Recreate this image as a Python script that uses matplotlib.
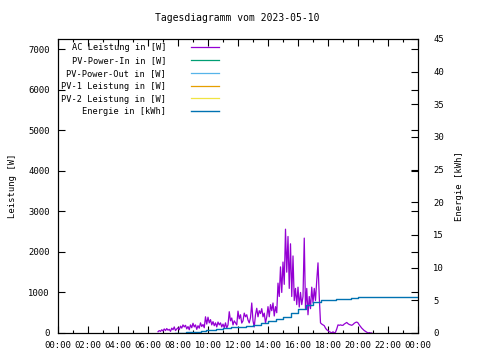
import numpy as np
import pandas as pd
import matplotlib
matplotlib.use('Agg')
import matplotlib.pyplot as plt
from matplotlib.ticker import MultipleLocator

plt.rcParams['font.family'] = ['DejaVu Sans Mono']

title = 'Tagesdiagramm vom 2023-05-10'
xtick_labels = ['00:00', '02:00', '04:00', '06:00', '08:00', '10:00', '12:00',
                '14:00', '16:00', '18:00', '20:00', '22:00', '00:00']

# AC Leistung [W], 5-Minuten-Werte ab 06:40
power_start = '2023-05-10 06:40'
ac_power = [
    30, 60, 40, 80,
    50, 100, 60, 110, 70, 90, 40, 120, 80, 150, 60, 100,            # 07
    130, 80, 170, 120, 200, 150, 190, 100, 160, 80, 200, 130,       # 08
    240, 150, 200, 90, 180, 120, 250, 160, 210, 130, 400, 220,      # 09
    390, 250, 330, 200, 280, 180, 250, 150, 270, 200, 250, 150,     # 10
    220, 130, 250, 120, 200, 525, 300, 370, 200, 300, 250, 200,     # 11
    540, 350, 450, 245, 300, 490, 400, 450, 320, 250, 380, 740,     # 12
    300, 150, 450, 610, 400, 550, 480, 600, 400, 490, 245, 400,     # 13
    650, 400, 700, 550, 740, 420, 650, 500, 1230, 900, 1630, 1000,  # 14
    1750, 1200, 2560, 1500, 2380, 1100, 2200, 900, 1900, 800, 1100, 700,  # 15
    1130, 640, 1000, 700, 900, 2340, 600, 1100, 450, 900, 600, 1130,      # 16
    740, 1100, 800, 1300, 1730, 900, 250, 220, 200, 180, 120, 80,   # 17
    60, 30, 20, 0, 30, 0, 20, 100, 200, 190, 200, 190,              # 18
    190, 220, 240, 260, 230, 210, 200, 190, 210, 240, 260, 270,     # 19
    250, 200, 160, 120, 90, 60, 40, 20, 0, 10, 0, 0,                # 20
]

# Energie [kWh]
energy_times = ['07:48', '08:30', '09:00', '09:30', '09:50', '10:30', '11:00',
                '11:30', '12:00', '12:30', '13:00', '13:30', '14:00', '14:30',
                '15:00', '15:30', '16:00', '16:30', '17:00', '17:30', '18:00',
                '18:30', '19:00', '19:30', '20:00', '24:00']
energy = [0.0, 0.1, 0.15, 0.25, 0.45, 0.55, 0.8, 0.85, 0.95, 1.05, 1.2, 1.5,
          1.9, 2.2, 2.5, 3.0, 3.7, 4.3, 4.8, 5.05, 5.1, 5.2, 5.25, 5.35,
          5.5, 5.5]

t0 = pd.Timestamp(power_start)
power_idx = pd.date_range(t0, periods=len(ac_power), freq='5min')
power_h = (power_idx - t0.normalize()) / pd.Timedelta(hours=1)
energy_h = [int(s[:2]) + int(s[3:]) / 60 for s in energy_times]

fs = 6.4

fig = plt.figure(figsize=(4.8, 3.6), dpi=100)
ax = fig.add_axes([58/480, 27/360, 360/480, 294/360])
ax2 = ax.twinx()

ax.plot(power_h, ac_power, color='#9400d3', lw=0.9, label='AC Leistung in [W]')
ax.plot([], [], color='#009e73', lw=0.9, label='PV-Power-In in [W]')
ax.plot([], [], color='#56b4e9', lw=0.9, label='PV-Power-Out in [W]')
ax.plot([], [], color='#e69f00', lw=0.9, label='PV-1 Leistung in [W]')
ax.plot([], [], color='#f0e442', lw=0.9, label='PV-2 Leistung in [W]')
ax2.plot(energy_h, energy, color='#0072b2', lw=1.0, drawstyle='steps-post',
         label='Energie in [kWh]')

ax.set_xlim(0, 24)
ax.set_ylim(0, 7250)
ax2.set_ylim(0, 45)

ax.set_xticks(range(0, 25, 2))
ax.set_xticklabels(xtick_labels)
ax.xaxis.set_minor_locator(MultipleLocator(1))
ax.yaxis.set_major_locator(MultipleLocator(1000))
ax2.yaxis.set_major_locator(MultipleLocator(5))

ax.tick_params(which='major', direction='in', length=5, width=0.8,
               top=True, right=True, labelsize=fs, pad=6)
ax.tick_params(which='minor', direction='in', length=2.5, width=0.8, top=True)
ax2.tick_params(direction='in', length=5, width=0.8, labelsize=fs, pad=11)
for a in (ax, ax2):
    for s in a.spines.values():
        s.set_linewidth(0.8)

ax.set_ylabel('Leistung [W]', fontsize=fs, labelpad=8)
ax2.set_ylabel('Energie [kWh]', fontsize=fs, rotation=90, labelpad=8)
fig.text(0.495, 0.95, title, ha='center', va='center', fontsize=7)

h1, l1 = ax.get_legend_handles_labels()
h2, l2 = ax2.get_legend_handles_labels()
ax2.legend(h1 + h2, l1 + l2, loc='upper left', frameon=False, fontsize=6.2,
           markerfirst=False, handlelength=3.3, handletextpad=2.9,
           labelspacing=0.45, borderpad=0, borderaxespad=0,
           bbox_to_anchor=(61/480, 1 - 43/360), bbox_transform=fig.transFigure)

fig.savefig('out.png', dpi=100)
